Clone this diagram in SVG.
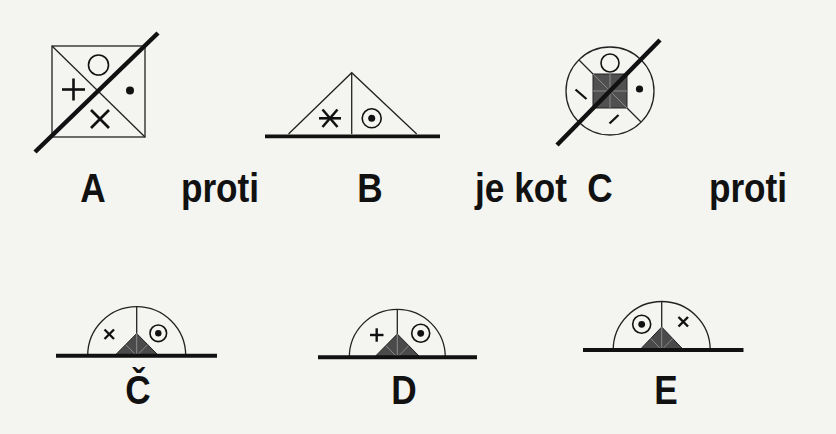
<svg xmlns="http://www.w3.org/2000/svg" width="836" height="434" viewBox="0 0 836 434">
<style>
.thin{fill:none;stroke:#222;stroke-width:1.3}
.thick{fill:none;stroke:#111;stroke-width:4.5;stroke-linecap:butt}
.sym{fill:none;stroke:#111;stroke-width:2.6;stroke-linecap:butt}
.ring{fill:none;stroke:#111;stroke-width:1.6}
.dot{fill:#111}
.tri{fill:#4a4a4a;stroke:#222;stroke-width:1}
.inner{stroke:#8a8a8a;stroke-width:1;fill:none}
.lbl{font-family:"Liberation Sans",Arial,sans-serif;font-weight:bold;fill:#111;text-anchor:middle;font-size:40px}
</style>
<rect width="836" height="434" fill="#f4f4f1"/>

<g id="A">
<rect x="52" y="46" width="93" height="91" class="thin"/>
<line x1="52" y1="46" x2="145" y2="137" class="thin"/>
<line x1="145" y1="46" x2="52" y2="137" class="thin"/>
<circle cx="98.5" cy="65" r="10" class="ring"/>
<line x1="62" y1="89.5" x2="85" y2="89.5" class="sym"/>
<line x1="73.5" y1="78.5" x2="73.5" y2="100.5" class="sym"/>
<circle cx="130" cy="90.5" r="4" class="dot"/>
<line x1="91" y1="110" x2="109" y2="128" class="sym"/>
<line x1="109" y1="110" x2="91" y2="128" class="sym"/>
<line x1="158" y1="33" x2="35" y2="152" class="thick"/>
</g>

<g id="B">
<polyline points="288.5,134 351.7,72.7 416.7,134" class="thin"/>
<line x1="351.7" y1="72.7" x2="351.7" y2="134" class="thin"/>
<line x1="319" y1="118.3" x2="341" y2="118.3" class="sym"/>
<line x1="322.5" y1="109.5" x2="337.5" y2="127" class="sym"/>
<line x1="337.5" y1="109.5" x2="322.5" y2="127" class="sym"/>
<circle cx="371.7" cy="118.3" r="9.5" class="ring"/>
<circle cx="371.7" cy="118.3" r="3.5" class="dot"/>
<line x1="265" y1="136.3" x2="440" y2="136.3" class="thick" style="stroke-width:3.8"/>
</g>

<g id="C">
<circle cx="610" cy="91" r="44" class="thin"/>
<line x1="593" y1="74" x2="579" y2="60" class="thin"/>
<line x1="627" y1="74" x2="641" y2="60" class="thin"/>
<line x1="593" y1="108" x2="579" y2="122" class="thin"/>
<line x1="627" y1="108" x2="641" y2="122" class="thin"/>
<rect x="593" y="74" width="34" height="34" fill="#505050" stroke="#222" stroke-width="1"/>
<path d="M593 74 L627 108 M627 74 L593 108 M610 74 V108 M593 91 H627" class="inner"/>
<circle cx="610" cy="63" r="9" class="ring"/>
<circle cx="639.5" cy="89" r="3.6" class="dot"/>
<line x1="575.5" y1="89.5" x2="586.5" y2="99" class="sym" style="stroke-width:2.3"/>
<line x1="609.5" y1="123.5" x2="618.5" y2="115" class="sym" style="stroke-width:2.3"/>
<line x1="660" y1="40" x2="557" y2="145" class="thick"/>
</g>

<g id="Cv">
<path d="M87.7 355.7 A49 49 0 0 1 185.7 355.7" class="thin"/>
<line x1="136.7" y1="306.7" x2="136.7" y2="333.5" class="thin"/>
<polygon points="114.7,355.7 136.7,333.5 158.7,355.7" class="tri"/>
<path d="M136.7 333.5 V355.7 M125.7 344.6 L136.7 355.7 L147.7 344.6" class="inner"/>
<line x1="104.5" y1="329.5" x2="114" y2="339" class="sym" style="stroke-width:2.3"/>
<line x1="114" y1="329.5" x2="104.5" y2="339" class="sym" style="stroke-width:2.3"/>
<circle cx="158.3" cy="333.3" r="8.3" class="ring"/>
<circle cx="158.3" cy="333.3" r="3.2" class="dot"/>
<line x1="56" y1="355.7" x2="217" y2="355.7" class="thick" style="stroke-width:4"/>
</g>

<g id="D">
<path d="M349.3 357.3 A48 48 0 0 1 445.3 357.3" class="thin"/>
<line x1="397.3" y1="309.3" x2="397.3" y2="334" class="thin"/>
<polygon points="374.3,357.3 397.3,334 420.3,357.3" class="tri"/>
<path d="M397.3 334 V357.3 M385.8 345.6 L397.3 357.3 L408.8 345.6" class="inner"/>
<line x1="370" y1="335" x2="383.5" y2="335" class="sym" style="stroke-width:2.4"/>
<line x1="376.7" y1="328.3" x2="376.7" y2="341.7" class="sym" style="stroke-width:2.4"/>
<circle cx="420.7" cy="333.3" r="9" class="ring"/>
<circle cx="420.7" cy="333.3" r="3.4" class="dot"/>
<line x1="318" y1="357.3" x2="477" y2="357.3" class="thick" style="stroke-width:4"/>
</g>

<g id="E">
<path d="M613.2 350 A48.5 48.5 0 0 1 710.2 350" class="thin"/>
<line x1="661.7" y1="301.5" x2="661.7" y2="327" class="thin"/>
<polygon points="639.7,350 661.7,327 683.7,350" class="tri"/>
<path d="M661.7 327 V350 M650.7 338.5 L661.7 350 L672.7 338.5" class="inner"/>
<circle cx="641.7" cy="324.3" r="9" class="ring"/>
<circle cx="641.7" cy="324.3" r="3.4" class="dot"/>
<line x1="678.5" y1="317" x2="688" y2="326.5" class="sym" style="stroke-width:2.4"/>
<line x1="688" y1="317" x2="678.5" y2="326.5" class="sym" style="stroke-width:2.4"/>
<line x1="583" y1="350" x2="743.5" y2="350" class="thick" style="stroke-width:4"/>
</g>

<g id="labels">
<text class="lbl" transform="translate(93,202) scale(0.88,1)">A</text>
<text class="lbl" transform="translate(220,202) scale(0.88,1)">proti</text>
<text class="lbl" transform="translate(370,202) scale(0.88,1)">B</text>
<text class="lbl" transform="translate(521,202) scale(0.88,1)">je kot</text>
<text class="lbl" transform="translate(600,202) scale(0.88,1)">C</text>
<text class="lbl" transform="translate(748,202) scale(0.88,1)">proti</text>
<text class="lbl" transform="translate(138,404) scale(0.88,1)">Č</text>
<text class="lbl" transform="translate(404,404) scale(0.88,1)">D</text>
<text class="lbl" transform="translate(666,404) scale(0.88,1)">E</text>
</g>
</svg>
